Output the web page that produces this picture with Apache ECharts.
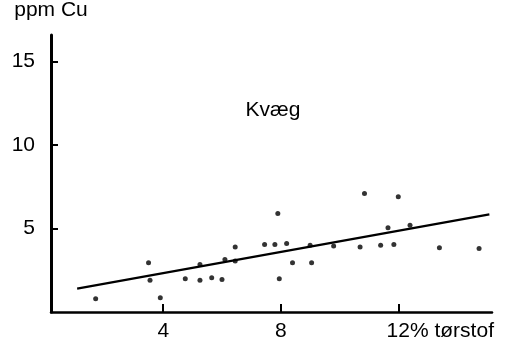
<!DOCTYPE html>
<html>
<head>
<meta charset="utf-8">
<script src="https://cdn.jsdelivr.net/npm/echarts@6/dist/echarts.min.js"></script>
<style>
  html, body { margin: 0; padding: 0; background: #fff; }
  #chart { width: 513px; height: 350px; }
</style>
</head>
<body>
<div id="chart"></div>
<script>
// tørstof (%) og ppm Cu for hver prøve
const dryMatter = [1.7, 3.5, 3.55, 3.9, 4.75, 5.25, 5.25, 5.65, 6.0, 6.1, 6.45, 6.45, 7.45, 7.8, 7.9,
  7.95, 8.2, 8.4, 9.0, 9.05, 9.8, 10.7, 10.85, 11.4, 11.65, 11.85, 12.0, 12.4, 13.4, 14.75];
const copper = [0.8, 2.95, 1.9, 0.85, 2.0, 2.85, 1.9, 2.05, 1.95, 3.15, 3.9, 3.05, 4.05, 4.05, 5.9,
  2.0, 4.1, 2.95, 4.0, 2.95, 3.95, 3.9, 7.1, 4.0, 5.05, 4.05, 6.9, 5.2, 3.85, 3.8];

// regressionslinje
const lineX = [1.07, 15.1];
const lineY = [1.4, 5.85];

const xTicks = [4, 8, 12];
const yTicks = [5, 10, 15];

const font = "'Liberation Sans', Arial, Helvetica, sans-serif";

const chart = echarts.init(document.getElementById("chart"));

chart.setOption({
  backgroundColor: "#fff",
  animation: false,
  textStyle: { fontFamily: font, color: "#000" },
  grid: { left: 51, right: 21, top: 32, bottom: 38 },
  xAxis: {
    type: "value",
    min: 0.18,
    max: 15.19,
    splitLine: { show: false },
    axisLine: { lineStyle: { color: "#000", width: 2.5 } },
    axisTick: {
      show: true,
      inside: true,
      length: 8,
      customValues: xTicks,
      lineStyle: { color: "#000", width: 2 }
    },
    axisLabel: {
      customValues: xTicks,
      margin: 9,
      fontSize: 21,
      fontFamily: font,
      color: "#000",
      formatter: (v) => (v === 12 ? "{u|12% tørstof}" : String(v)),
      rich: {
        u: { fontSize: 21, fontFamily: font, color: "#000", padding: [0, 0, 0, 84] }
      }
    }
  },
  yAxis: {
    type: "value",
    min: 0,
    max: 16.6,
    name: "ppm Cu",
    nameLocation: "end",
    nameGap: 14,
    nameTextStyle: { fontSize: 21, fontFamily: font, color: "#000" },
    splitLine: { show: false },
    axisLine: { show: true, lineStyle: { color: "#000", width: 3 } },
    axisTick: {
      show: true,
      inside: true,
      length: 7,
      customValues: yTicks,
      lineStyle: { color: "#000", width: 2 }
    },
    axisLabel: {
      customValues: yTicks,
      margin: 16,
      fontSize: 21,
      fontFamily: font,
      color: "#000"
    }
  },
  graphic: [
    {
      type: "text",
      x: 273,
      y: 110,
      style: {
        text: "Kvæg",
        fontSize: 21,
        fontFamily: font,
        fill: "#000",
        textAlign: "center",
        textVerticalAlign: "middle"
      }
    }
  ],
  series: [
    {
      type: "scatter",
      symbolSize: 5,
      itemStyle: { color: "#000" },
      data: dryMatter.map((x, i) => [x, copper[i]])
    },
    {
      type: "line",
      symbol: "none",
      lineStyle: { color: "#000", width: 2.2 },
      data: lineX.map((x, i) => [x, lineY[i]])
    }
  ]
});
</script>
</body>
</html>
